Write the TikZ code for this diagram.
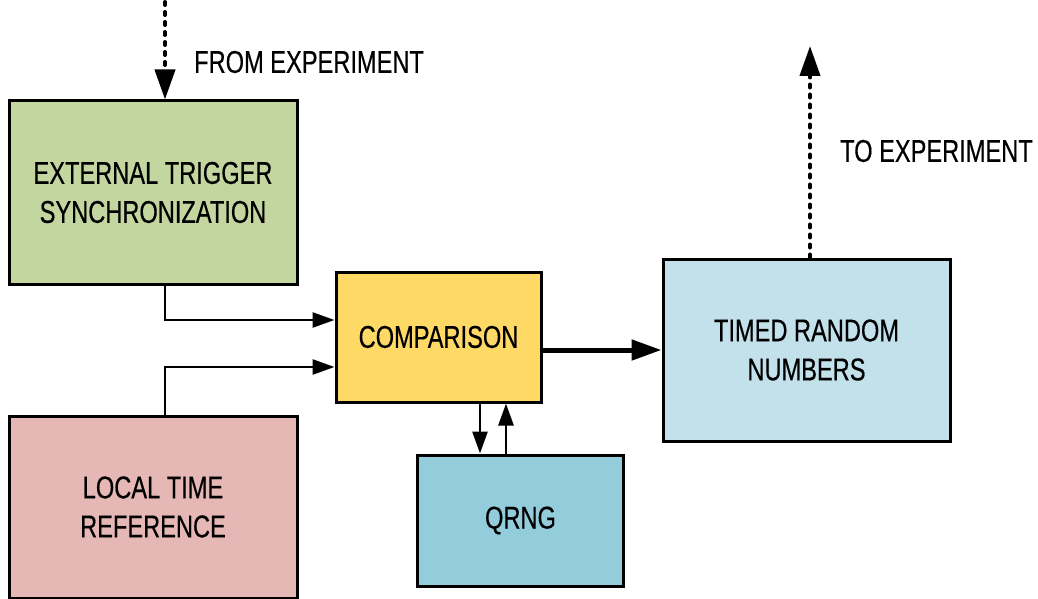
\documentclass[tikz,border=0pt]{standalone}
\usepackage{fontspec}
\setmainfont{Liberation Sans}[FakeStretch=0.75,FakeBold=0.4]
\usetikzlibrary{arrows.meta}
\definecolor{trigfill}{HTML}{C4D69F}
\definecolor{compfill}{HTML}{FFD966}
\definecolor{timedfill}{HTML}{C2E1EB}
\definecolor{localfill}{HTML}{E5B8B6}
\definecolor{qrngfill}{HTML}{93CDDC}
\tikzset{
  block/.style={draw=black, line width=3pt, rectangle, inner sep=0pt, align=center,
    font=\fontsize{31.5}{39}\selectfont},
  lbl/.style={inner sep=0pt, anchor=west, font=\fontsize{31.5}{39}\selectfont},
  link/.style={line width=2.6pt, -{Triangle[length=22pt,width=15pt]}},
  biglink/.style={line width=5pt, -{Triangle[length=30pt,width=20pt]}},
  dotlink/.style={line width=4pt, line cap=round, dash pattern=on 3pt off 7pt,
    -{Triangle[length=30pt,width=20pt]}},
}
\begin{document}
\begin{tikzpicture}[x=1pt,y=-1pt]
\useasboundingbox (0,0) rectangle (1038,599);

% blocks
\node[block, fill=trigfill, minimum width=288pt, minimum height=183pt] (trig) at (153,192.5)
  {EXTERNAL TRIGGER\\SYNCHRONIZATION};
\node[block, fill=compfill, minimum width=205pt, minimum height=130pt] (comp) at (438.5,337)
  {COMPARISON};
\node[block, fill=timedfill, minimum width=287pt, minimum height=182pt] (timed) at (806.5,350)
  {TIMED RANDOM\\NUMBERS};
\node[block, fill=localfill, minimum width=288pt, minimum height=182pt] (local) at (153,507)
  {LOCAL TIME\\REFERENCE};
\node[block, fill=qrngfill, minimum width=206pt, minimum height=131pt] (qrng) at (520.5,520.5)
  {QRNG};

% labels
\node[lbl] (fromlbl) at (194,62) {FROM EXPERIMENT};
\node[lbl] (tolbl) at (840,151) {TO EXPERIMENT};

% free ends of the experiment links
\coordinate (src) at (165,2);
\coordinate (dst) at (810,46);

% experiment links
\draw[dotlink] (src) -- (src |- trig.north);
\draw[dotlink] (timed.north -| dst) -- (dst);

% inputs to comparison
\coordinate (tbend) at (165,320);
\coordinate (lbend) at (165,367);
\draw[link] (trig.south -| tbend) -- (tbend) -- (tbend -| comp.west);
\draw[link] (local.north -| lbend) -- (lbend) -- (lbend -| comp.west);

% comparison <-> qrng
\coordinate (dn) at (480,0);
\coordinate (up) at (506,0);
\draw[link] (comp.south -| dn) -- (qrng.north -| dn);
\draw[link] (qrng.north -| up) -- (comp.south -| up);

% output
\draw[biglink] (comp.east |- timed.west) -- (timed.west);
\end{tikzpicture}
\end{document}
